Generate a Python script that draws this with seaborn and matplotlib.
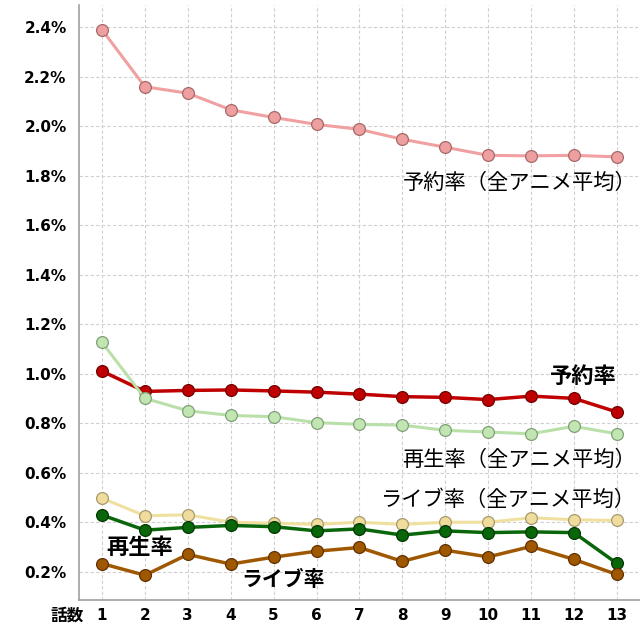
import matplotlib
matplotlib.use("Agg")
import matplotlib.pyplot as plt
import seaborn as sns
import pandas as pd
from matplotlib.ticker import FuncFormatter

episodes = list(range(1, 14))
reserve_avg = [2.389, 2.159, 2.133, 2.066, 2.035, 2.007, 1.987, 1.947, 1.915, 1.882, 1.880, 1.882, 1.876]
reserve = [1.011, 0.929, 0.933, 0.935, 0.931, 0.926, 0.918, 0.908, 0.905, 0.896, 0.910, 0.901, 0.846]
play_avg = [1.127, 0.901, 0.851, 0.832, 0.827, 0.803, 0.796, 0.793, 0.772, 0.765, 0.758, 0.788, 0.758]
live_avg = [0.498, 0.427, 0.431, 0.401, 0.397, 0.392, 0.401, 0.392, 0.401, 0.401, 0.419, 0.411, 0.408]
play = [0.430, 0.369, 0.380, 0.388, 0.383, 0.366, 0.374, 0.349, 0.366, 0.359, 0.362, 0.359, 0.235]
live = [0.234, 0.187, 0.271, 0.232, 0.260, 0.284, 0.299, 0.243, 0.288, 0.261, 0.303, 0.251, 0.190]

series_names = ["予約率（全アニメ平均）", "予約率", "再生率（全アニメ平均）", "ライブ率（全アニメ平均）", "再生率", "ライブ率"]
series_values = [reserve_avg, reserve, play_avg, live_avg, play, live]
y_ticks = [0.2, 0.4, 0.6, 0.8, 1.0, 1.2, 1.4, 1.6, 1.8, 2.0, 2.2, 2.4]

styles = [
    dict(line="#f0a0a0", face="#eea0a0", edge="#a86868", lw=2.2),
    dict(line="#c00000", face="#c00000", edge="#700000", lw=2.5),
    dict(line="#b8e0a8", face="#c2e6b2", edge="#80a078", lw=2.2),
    dict(line="#f0e0a0", face="#f0dc9c", edge="#a89a70", lw=2.2),
    dict(line="#0a660a", face="#0a660a", edge="#003800", lw=2.5),
    dict(line="#a05800", face="#a05800", edge="#603000", lw=2.5),
]

sns.set_style("white")
plt.rcParams['font.family'] = ['Noto Sans CJK JP', 'DejaVu Sans']
plt.rcParams['text.color'] = 'black'
plt.rcParams['xtick.color'] = 'black'
plt.rcParams['ytick.color'] = 'black'

fig = plt.figure(figsize=(6.4, 6.4), dpi=100)
ax = fig.add_axes([79/640, 40/640, 561/640, 595/640])

for name, vals, st in zip(series_names, series_values, styles):
    df = pd.DataFrame({"ep": episodes, "v": vals})
    sns.lineplot(data=df, x="ep", y="v", ax=ax, color=st["line"], linewidth=st["lw"],
                 marker="o", markersize=8.5, markerfacecolor=st["face"],
                 markeredgecolor=st["edge"], markeredgewidth=0.9)

ax.set_xlim(0.464, 13.54)
ax.set_ylim(0.087, 2.489)
ax.set_xticks(episodes)
ax.set_yticks(y_ticks)
ax.yaxis.set_major_formatter(FuncFormatter(lambda v, p: f"{v:.1f}%"))
ax.set_xlabel("")
ax.set_ylabel("")
ax.grid(True, color="#d0d0d0", linestyle=(0, (3, 2)), linewidth=0.8)
for s in ["top", "right"]:
    ax.spines[s].set_visible(False)
for s in ["left", "bottom"]:
    ax.spines[s].set_color("#a0a0a0")
    ax.spines[s].set_linewidth(1.2)
ax.tick_params(axis="both", length=0, labelsize=11, labelcolor="black")
ax.tick_params(axis="y", pad=9)
ax.tick_params(axis="x", pad=6)
for lab in ax.get_xticklabels() + ax.get_yticklabels():
    lab.set_fontweight("bold")
    lab.set_family("DejaVu Sans")

fig.text(67/640, 1 - 616/640, "話数", fontsize=12, fontweight="bold", ha="center", va="center", color="black")

ax.text(13.45, 1.77, "予約率（全アニメ平均）", fontsize=15.3, ha="right", va="center", color="black")
ax.text(13.0, 0.99, "予約率", fontsize=16, fontweight="bold", ha="right", va="center", color="black")
ax.text(13.45, 0.652, "再生率（全アニメ平均）", fontsize=15.3, ha="right", va="center", color="black")
ax.text(13.45, 0.492, "ライブ率（全アニメ平均）", fontsize=15.3, ha="right", va="center", color="black")
ax.text(1.1, 0.30, "再生率", fontsize=16, fontweight="bold", ha="left", va="center", color="black")
ax.text(4.25, 0.17, "ライブ率", fontsize=15, fontweight="bold", ha="left", va="center", color="black")

fig.savefig("out.png", dpi=100)
